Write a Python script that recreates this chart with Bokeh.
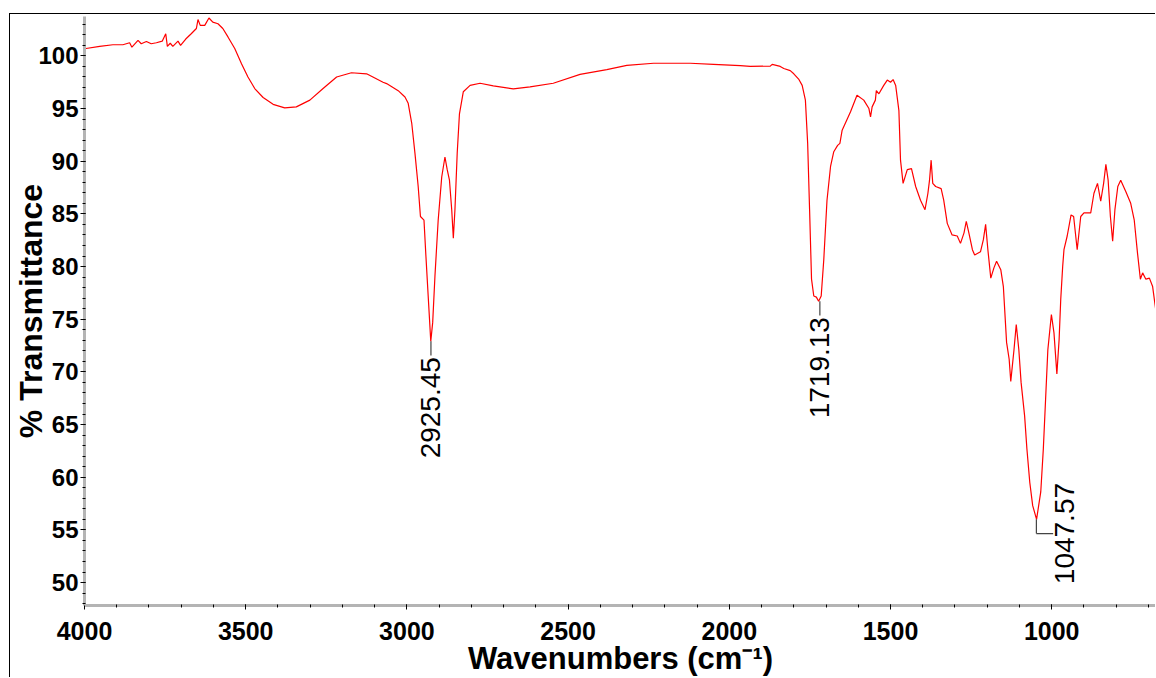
import math
from bokeh.plotting import figure
from bokeh.models import Range1d, SingleIntervalTicker
from bokeh.embed import file_html
from bokeh.resources import INLINE
from bokeh.core.properties import value

# ---- data ----
wavenumber = [4000, 3953, 3912, 3881, 3860, 3853, 3834, 3824, 3808, 3793,
              3777, 3759, 3748, 3743, 3734, 3726, 3710, 3702, 3686, 3669,
              3653, 3648, 3641, 3627, 3614, 3602, 3586, 3571, 3555, 3534,
              3513, 3493, 3472, 3446, 3415, 3379, 3343, 3301, 3260, 3218,
              3172, 3125, 3074, 3063, 3027, 3006, 2996, 2985, 2975, 2965,
              2958, 2947, 2941, 2934, 2926, 2920, 2913, 2903, 2892, 2882,
              2875, 2868, 2861, 2856, 2851, 2844, 2837, 2825, 2804, 2773,
              2732, 2670, 2618, 2546, 2463, 2380, 2318, 2235, 2121, 2049,
              1966, 1935, 1873, 1867, 1842, 1831, 1811, 1800, 1785, 1774,
              1764, 1757, 1751, 1745, 1738, 1730, 1723, 1715, 1707, 1697,
              1686, 1676, 1664, 1657, 1650, 1624, 1604, 1583, 1567, 1562,
              1557, 1547, 1544, 1536, 1521, 1510, 1500, 1492, 1484, 1474,
              1469, 1461, 1448, 1435, 1422, 1407, 1393, 1384, 1379, 1374,
              1369, 1360, 1343, 1335, 1324, 1309, 1293, 1283, 1272, 1265,
              1257, 1246, 1239, 1221, 1212, 1205, 1198, 1189, 1179, 1171,
              1158, 1150, 1140, 1132, 1127, 1117, 1110, 1102, 1095, 1084,
              1077, 1068, 1059, 1047, 1034, 1026, 1019, 1012, 1001, 993,
              984, 977, 972, 966, 962, 952, 940, 932, 921, 910,
              900, 879, 869, 858, 848, 839, 832, 825, 818, 811,
              804, 795, 786, 770, 755, 744, 734, 725, 718, 708,
              697, 687, 676]
transmittance = [100.68, 100.9, 101.06, 101.06, 101.25, 100.83, 101.47, 101.15, 101.37, 101.15,
                 101.25, 101.4, 102.1, 100.9, 101.2, 100.9, 101.4, 101.0, 101.6, 102.1,
                 102.6, 103.45, 102.9, 102.9, 103.6, 103.2, 103.05, 102.6, 101.8, 100.7,
                 99.26, 98.0, 96.9, 96.05, 95.4, 95.06, 95.16, 95.8, 96.9, 98.0,
                 98.4, 98.3, 97.5, 97.37, 96.7, 96.1, 95.5, 93.6, 90.75, 87.6,
                 84.75, 84.4, 80.97, 77.2, 72.9, 74.7, 79.1, 84.4, 88.5, 90.4,
                 89.2, 88.2, 85.4, 82.7, 85.4, 90.75, 94.5, 96.6, 97.2, 97.4,
                 97.15, 96.86, 97.05, 97.4, 98.25, 98.7, 99.1, 99.3, 99.3, 99.2,
                 99.07, 99.0, 99.03, 99.2, 99.0, 98.8, 98.6, 98.3, 97.8, 97.2,
                 95.8, 91.7, 85.4, 78.8, 77.2, 77.1, 76.7, 77.2, 80.65, 86.3,
                 89.5, 90.9, 91.5, 91.7, 92.95, 94.7, 96.26, 95.8, 95.0, 94.2,
                 95.16, 95.8, 96.7, 96.4, 97.2, 97.7, 97.5, 97.75, 97.2, 94.8,
                 90.1, 87.9, 89.2, 89.3, 87.6, 86.3, 85.4, 86.96, 88.2, 90.1,
                 87.9, 87.6, 87.4, 86.3, 84.1, 83.0, 82.9, 82.2, 83.2, 84.3,
                 83.2, 81.6, 81.1, 81.4, 82.55, 84.0, 81.6, 78.9, 79.9, 80.5,
                 79.7, 78.1, 72.8, 71.2, 69.1, 72.1, 74.5, 72.1, 69.0, 65.8,
                 62.7, 59.5, 57.3, 56.0, 58.6, 62.7, 67.4, 72.1, 75.45, 73.7,
                 69.8, 73.1, 76.9, 80.0, 81.6, 82.9, 84.9, 84.75, 81.6, 84.75,
                 85.1, 85.1, 86.96, 87.9, 86.2, 87.9, 89.7, 88.2, 84.75, 82.4,
                 85.4, 87.6, 88.2, 87.1, 86.0, 84.4, 81.3, 78.8, 79.4, 78.8,
                 78.9, 78.1, 75.6]

peak_wavenumber = [2925.45, 1719.13, 1047.57]
peak_transmittance = [72.9, 76.7, 56.0]
peak_labels = ["2925.45", "1719.13", "1047.57"]

x_ticks_major = 500
x_ticks_minor = 100
y_ticks_major = 5
y_ticks_minor = 1

# ---- figure ----
p = figure(width=1146, height=664,
           x_range=Range1d(4000, 675), y_range=Range1d(47.82, 103.74),
           output_backend="svg", toolbar_location=None,
           min_border_left=73, min_border_right=0,
           min_border_top=2, min_border_bottom=71)
p.styles = {"border-left": "1px solid black", "border-top": "1px solid black",
            "margin-left": "9px", "margin-top": "13px"}
p.background_fill_color = "white"
p.border_fill_color = "white"
p.outline_line_color = None
p.xgrid.visible = False
p.ygrid.visible = False

p.line(wavenumber, transmittance, line_color="#ff0000", line_width=1.2)

# leaders and peak labels
lead = 1.35
p.segment(x0=peak_wavenumber[:2], y0=peak_transmittance[:2],
          x1=peak_wavenumber[:2], y1=[t - lead for t in peak_transmittance[:2]],
          line_color="#444444", line_width=1.2)
p.text(x=peak_wavenumber[:2], y=[t - lead - 0.15 for t in peak_transmittance[:2]],
       text=peak_labels[:2], angle=math.pi / 2,
       text_align="right", text_baseline="middle",
       text_font=value("Liberation Sans"), text_font_size="28px",
       text_color="black")

xw, yw = peak_wavenumber[2], peak_transmittance[2]
p.segment(x0=[xw, xw], y0=[yw, yw - lead], x1=[xw, xw - 52], y1=[yw - lead, yw - lead],
          line_color="#444444", line_width=1.2)
p.text(x=[xw - 58], y=[yw - lead], text=[peak_labels[2]], angle=math.pi / 2,
       text_align="center", text_baseline="top",
       text_font=value("Liberation Sans"), text_font_size="28px",
       text_color="black")

# axes
for ax in (p.xaxis[0], p.yaxis[0]):
    ax.axis_line_color = "#b4b4b4"
    ax.axis_line_width = 3
    ax.major_tick_line_color = "black"
    ax.minor_tick_line_color = "black"
    ax.major_tick_in = 1
    ax.major_tick_out = 4
    ax.minor_tick_in = 1
    ax.minor_tick_out = 2
    ax.major_label_text_font = "Liberation Sans"
    ax.major_label_text_font_style = "bold"
    ax.major_label_text_color = "black"
    ax.axis_label_text_font = "Liberation Sans"
    ax.axis_label_text_font_style = "bold"
    ax.axis_label_text_color = "black"

p.xaxis[0].ticker = SingleIntervalTicker(interval=x_ticks_major,
                                         num_minor_ticks=x_ticks_major // x_ticks_minor)
p.yaxis[0].ticker = SingleIntervalTicker(interval=y_ticks_major,
                                         num_minor_ticks=y_ticks_major // y_ticks_minor)
p.xaxis[0].major_label_text_font_size = "25px"
p.yaxis[0].major_label_text_font_size = "24px"
p.xaxis[0].major_label_standoff = 12
p.yaxis[0].major_label_standoff = 2
p.xaxis[0].axis_label = "Wavenumbers (cm\u207b\u00b9)"
p.yaxis[0].axis_label = "% Transmittance"
p.xaxis[0].axis_label_text_font_size = "31px"
p.yaxis[0].axis_label_text_font_size = "32px"
p.xaxis[0].axis_label_standoff = -2
p.yaxis[0].axis_label_standoff = -14

open("out.html", "w").write(file_html(p, INLINE))
